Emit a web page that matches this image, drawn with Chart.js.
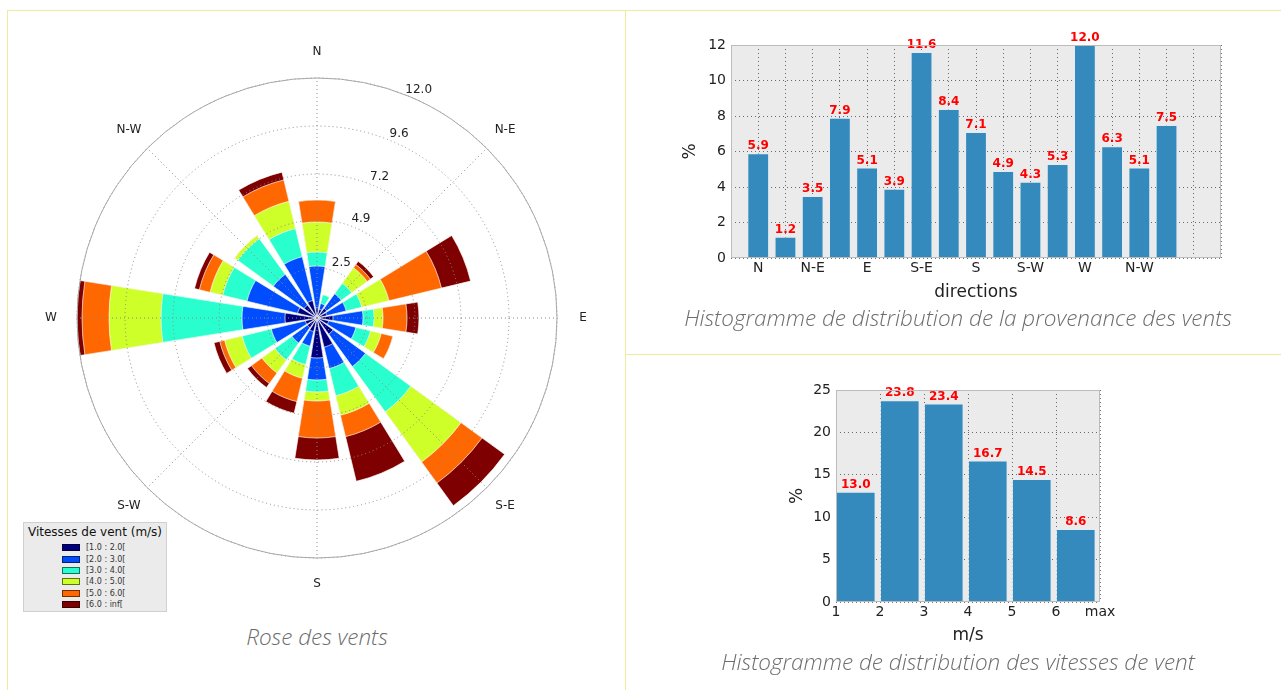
<!DOCTYPE html>
<html>
<head>
<meta charset="utf-8">
<script src="https://cdn.jsdelivr.net/npm/chart.js@4.4.1/dist/chart.umd.min.js"></script>
<style>
  html, body { margin: 0; padding: 0; background: #fff; }
  body { width: 1281px; height: 690px; position: relative; overflow: hidden; font-family: 'DejaVu Sans', sans-serif; }
  .rule { position: absolute; background: #ecec9c; }
  canvas { position: absolute; }
  .caption { position: absolute; font-family: 'Open Sans', Lato, sans-serif; font-style: italic; font-weight: 300; font-size: 22.5px; line-height: 26px; color: #6c6c6c; text-align: center; white-space: nowrap; }
  #roseLegend { position: absolute; left: 23px; top: 522px; width: 144px; height: 90px; box-sizing: border-box; background: #ebebeb; border: 1px solid #d0d0d0; }
  #roseLegend .title { height: 19px; line-height: 19px; text-align: center; font-size: 12px; color: #111; }
  #roseLegend ul { list-style: none; margin: 0; padding: 0 0 0 38px; }
  #roseLegend li { height: 11.4px; display: flex; align-items: center; font-size: 8px; color: #333; }
  #roseLegend .swatch { width: 18px; height: 7px; box-sizing: border-box; border: 1px solid rgba(0,0,0,0.55); margin-right: 6px; }
</style>
</head>
<body>
<div class="rule" style="left:7px;top:10px;width:1274px;height:1px"></div>
<div class="rule" style="left:7px;top:10px;width:1px;height:680px"></div>
<div class="rule" style="left:625px;top:10px;width:1px;height:680px"></div>
<div class="rule" style="left:625px;top:354px;width:656px;height:1px"></div>

<canvas id="roseChart" width="600" height="600" style="left:17px;top:18px"></canvas>
<canvas id="dirChart" width="600" height="290" style="left:640px;top:20px"></canvas>
<canvas id="speedChart" width="360" height="285" style="left:760px;top:370px"></canvas>

<div id="roseLegend"><div class="title">Vitesses de vent (m/s)</div><ul id="roseLegendItems"></ul></div>

<div class="caption" style="left:0;top:624px;width:634px">Rose des vents</div>
<div class="caption" style="left:640px;top:305px;width:636px">Histogramme de distribution de la provenance des vents</div>
<div class="caption" style="left:640px;top:649px;width:636px">Histogramme de distribution des vitesses de vent</div>

<script>
// directions (16 secteurs) et libellés de la rose
const directions = ['N', 'NNE', 'NE', 'ENE', 'E', 'ESE', 'SE', 'SSE', 'S', 'SSW', 'SW', 'WSW', 'W', 'WNW', 'NW', 'NNW'];
const compassLabels = ['N', 'N-E', 'E', 'S-E', 'S', 'S-W', 'W', 'N-W'];
const radialTicks = [2.5, 4.9, 7.2, 9.6, 12.0];

// part (%) de chaque classe de vitesse, par direction
const bin1to2 = [0.5, 0.45, 0.6, 0.5, 0.8, 0.6, 1.0, 1.5, 2.0, 0.7, 0.6, 0.6, 1.6, 1.0, 0.8, 0.9];
const bin2to3 = [2.1, 0.3, 0.9, 1.0, 1.5, 1.4, 2.0, 1.1, 1.1, 0.75, 0.95, 1.75, 2.15, 2.6, 1.9, 2.25];
const bin3to4 = [0.7, 0.45, 0.65, 0.8, 0.55, 0.75, 2.8, 1.4, 0.6, 0.95, 1.05, 1.5, 4.05, 1.25, 2.2, 1.45];
const bin4to5 = [1.5, 0, 0.95, 1.4, 0.45, 0.55, 3.1, 1.0, 0.45, 0.7, 0.8, 0.9, 2.6, 0.65, 0.2, 1.4];
const bin5to6 = [1.1, 0, 0.2, 2.7, 1.2, 0.6, 1.3, 1.1, 1.85, 1.2, 0.65, 0.25, 1.35, 0.55, 0, 1.1];
const bin6up = [0, 0, 0.2, 1.5, 0.6, 0, 1.4, 2.3, 1.1, 0.6, 0.25, 0.3, 0.25, 0.25, 0, 0.4];
const speedLabels = ['[1.0 : 2.0[', '[2.0 : 3.0[', '[3.0 : 4.0[', '[4.0 : 5.0[', '[5.0 : 6.0[', '[6.0 : inf['];
const speedColors = ['#00007f', '#004cff', '#29ffce', '#ceff29', '#ff6800', '#7f0000'];

// histogramme des directions
const directionShare = [5.9, 1.2, 3.5, 7.9, 5.1, 3.9, 11.6, 8.4, 7.1, 4.9, 4.3, 5.3, 12.0, 6.3, 5.1, 7.5];

// histogramme des vitesses
const speedBinStart = [1, 2, 3, 4, 5, 6];
const speedShare = [13.0, 23.8, 23.4, 16.7, 14.5, 8.6];
const speedTickLabels = ['1', '2', '3', '4', '5', '6', 'max'];

Chart.defaults.font.family = "'DejaVu Sans', sans-serif";
Chart.defaults.animation = false;

const BAR_ANGLE = 18;   // degrés occupés par un secteur
const GAP_ANGLE = 4.5;  // vide entre deux secteurs
const GRID_COLOR = 'rgba(0,0,0,0.55)';

// ---------- rose des vents ----------
const speedBins = [bin1to2, bin2to3, bin3to4, bin4to5, bin5to6, bin6up];
let running = directions.map(() => 0);
const roseDatasets = speedBins.map((bin, k) => {
  running = running.map((v, i) => v + bin[i]);
  const data = [];
  running.forEach(v => data.push(v, 0)); // secteur puis vide
  return {
    label: speedLabels[k],
    data: data,
    backgroundColor: c => c.dataIndex % 2 ? 'rgba(0,0,0,0)' : speedColors[k],
    borderColor: 'rgba(255,255,255,0.85)',
    borderWidth: c => c.dataIndex % 2 ? 0 : 0.8,
    angle: c => c.dataIndex % 2 ? GAP_ANGLE : BAR_ANGLE
  };
});

const roseDecor = {
  id: 'roseDecor',
  afterDraw: (chart) => {
    const r = chart.scales.r;
    const ctx = chart.ctx;
    const cx = r.xCenter, cy = r.yCenter;
    const R = r.getDistanceFromCenterForValue(r.max);
    ctx.save();
    ctx.strokeStyle = '#8a8a8a';
    ctx.lineWidth = 1;
    ctx.setLineDash([1, 3]);
    compassLabels.forEach((lab, k) => {
      const a = k * Math.PI / 4;
      ctx.beginPath();
      ctx.moveTo(cx, cy);
      ctx.lineTo(cx + R * Math.sin(a), cy - R * Math.cos(a));
      ctx.stroke();
    });
    ctx.setLineDash([]);
    ctx.strokeStyle = '#a8a8a8';
    ctx.beginPath();
    ctx.arc(cx, cy, R, 0, 2 * Math.PI);
    ctx.stroke();

    ctx.fillStyle = '#222';
    ctx.font = '12px "DejaVu Sans"';
    ctx.textAlign = 'center';
    ctx.textBaseline = 'middle';
    compassLabels.forEach((lab, k) => {
      const a = k * Math.PI / 4;
      ctx.fillText(lab, cx + (R + 26) * Math.sin(a), cy - (R + 26) * Math.cos(a));
    });
    const ta = 24 * Math.PI / 180;
    radialTicks.forEach(v => {
      const d = r.getDistanceFromCenterForValue(v) + 10;
      ctx.fillText(v.toFixed(1), cx + d * Math.sin(ta), cy - d * Math.cos(ta));
    });
    ctx.restore();
  }
};

const roseChart = new Chart(document.getElementById('roseChart'), {
  type: 'polarArea',
  data: { datasets: roseDatasets },
  options: {
    responsive: false,
    events: [],
    layout: { padding: 60 },
    scales: {
      r: {
        min: 0,
        max: 12,
        startAngle: -BAR_ANGLE / 2,
        afterBuildTicks: s => { s.ticks = [0, ...radialTicks].map(value => ({ value })); },
        ticks: { display: false, z: 1 },
        grid: { circular: true, color: '#8a8a8a', lineWidth: 1, z: 1 },
        border: { dash: [1, 3] },
        angleLines: { display: false },
        pointLabels: { display: false }
      }
    },
    plugins: { legend: { display: false }, tooltip: { enabled: false } }
  },
  plugins: [roseDecor]
});

// légende HTML construite à partir des jeux de données
const legendList = document.getElementById('roseLegendItems');
roseChart.data.datasets.forEach((ds, k) => {
  const li = document.createElement('li');
  const sw = document.createElement('span');
  sw.className = 'swatch';
  sw.style.background = speedColors[k];
  li.appendChild(sw);
  li.appendChild(document.createTextNode(ds.label));
  legendList.appendChild(li);
});

// ---------- histogrammes ----------
const plotFrame = {
  id: 'plotFrame',
  beforeDraw: (chart) => {
    const { ctx, chartArea: { top, bottom, left, right } } = chart;
    ctx.save();
    ctx.fillStyle = '#ebebeb';
    ctx.fillRect(left, top, right - left, bottom - top);
    ctx.restore();
  },
  afterDraw: (chart) => {
    const { ctx, chartArea: { top, bottom, left, right } } = chart;
    ctx.save();
    ctx.strokeStyle = '#bcbcbc';
    ctx.lineWidth = 1;
    ctx.strokeRect(left + 0.5, top + 0.5, right - left - 1, bottom - top - 1);
    ctx.restore();
  }
};

const barValues = {
  id: 'barValues',
  afterDatasetsDraw: (chart) => {
    const ctx = chart.ctx;
    const points = chart.data.datasets[0].data;
    ctx.save();
    ctx.font = 'bold 12px "DejaVu Sans"';
    ctx.fillStyle = '#ff0000';
    ctx.textAlign = 'center';
    ctx.textBaseline = 'bottom';
    chart.getDatasetMeta(0).data.forEach((bar, i) => {
      ctx.fillText(points[i].y.toFixed(1), bar.x, bar.y - 1);
    });
    ctx.restore();
  }
};

function axisStyle(extra) {
  return Object.assign({
    type: 'linear',
    offset: false,
    grid: { color: GRID_COLOR, offset: false, drawTicks: false },
    border: { display: false, dash: [1, 3] },
    ticks: { color: '#222', font: { size: 14 }, autoSkip: false, maxRotation: 0, maxTicksLimit: 40 }
  }, extra);
}

new Chart(document.getElementById('dirChart'), {
  type: 'bar',
  data: {
    datasets: [{
      data: directionShare.map((v, i) => ({ x: i, y: v })),
      backgroundColor: '#348abd',
      borderColor: 'rgba(225,235,245,0.7)',
      borderWidth: 1,
      barPercentage: 0.8,
      categoryPercentage: 1
    }]
  },
  options: {
    responsive: false,
    events: [],
    layout: { padding: { left: 36, right: 19, top: 25, bottom: 3 } },
    scales: {
      x: axisStyle({
        min: -1, max: 17,
        afterFit: s => { s.height = 49; },
        ticks: {
          color: '#222', font: { size: 14 }, autoSkip: false, maxRotation: 0, maxTicksLimit: 40,
          stepSize: 1, padding: 2,
          callback: v => (v >= 0 && v < directions.length && v % 2 === 0) ? compassLabels[v / 2] : ''
        },
        title: { display: true, text: 'directions', color: '#222', font: { size: 17 }, padding: { top: 0, bottom: 4 } }
      }),
      y: axisStyle({
        min: 0, max: 12,
        afterFit: s => { s.width = 55; },
        ticks: { color: '#222', font: { size: 14 }, stepSize: 2, padding: 5 },
        title: { display: true, text: '%', color: '#222', font: { size: 17 }, padding: { top: 4, bottom: 0 } }
      })
    },
    plugins: { legend: { display: false }, tooltip: { enabled: false } }
  },
  plugins: [plotFrame, barValues]
});

const SPEED_BAR = 0.9; // largeur des barres (en m/s), alignées sur le bord gauche
new Chart(document.getElementById('speedChart'), {
  type: 'bar',
  data: {
    datasets: [{
      data: speedShare.map((v, i) => ({ x: speedBinStart[i] + SPEED_BAR / 2, y: v })),
      backgroundColor: '#348abd',
      borderColor: 'rgba(225,235,245,0.7)',
      borderWidth: 1,
      barPercentage: SPEED_BAR,
      categoryPercentage: 1
    }]
  },
  options: {
    responsive: false,
    events: [],
    layout: { padding: { left: 23, right: 20, top: 20, bottom: 5 } },
    scales: {
      x: axisStyle({
        min: 1, max: 7,
        afterFit: s => { s.height = 48; },
        ticks: {
          color: '#222', font: { size: 14 }, autoSkip: false, maxRotation: 0, maxTicksLimit: 40,
          stepSize: 1, padding: 2,
          callback: v => speedTickLabels[v - 1]
        },
        title: { display: true, text: 'm/s', color: '#222', font: { size: 17 }, padding: { top: 0, bottom: 4 } }
      }),
      y: axisStyle({
        min: 0, max: 25,
        afterFit: s => { s.width = 53; },
        ticks: { color: '#222', font: { size: 14 }, stepSize: 5, padding: 5 },
        title: { display: true, text: '%', color: '#222', font: { size: 17 }, padding: { top: 4, bottom: 0 } }
      })
    },
    plugins: { legend: { display: false }, tooltip: { enabled: false } }
  },
  plugins: [plotFrame, barValues]
});
</script>
</body>
</html>
